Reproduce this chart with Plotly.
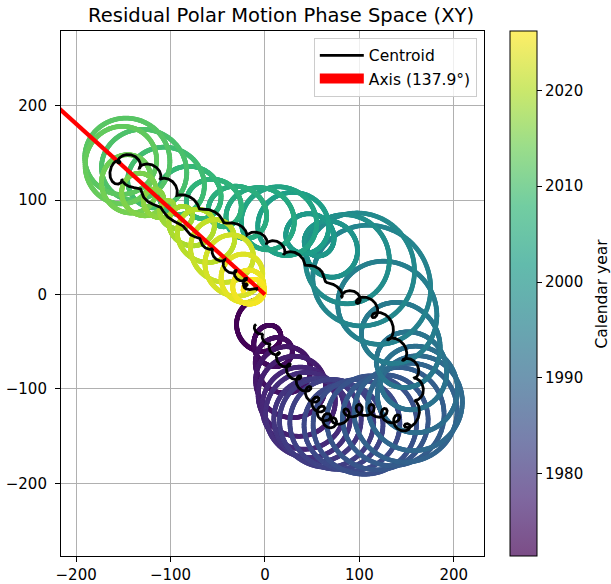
import numpy as np
import plotly.graph_objects as go
from plotly.colors import sequential

# ---------------------------------------------------------------------------
# Residual polar motion, keyed by calendar year (x, y in axis units):
#   loop centres and centroid track at the knot years,
#   loop radius once per wobble cycle.
# ---------------------------------------------------------------------------
knot_year = [1971.4, 1973.0, 1975.0, 1977.0, 1979.0, 1981.0, 1983.0, 1985.0,
             1987.0, 1989.0, 1990.5, 1992.0, 1993.5, 1995.0, 1996.5, 1998.0,
             1999.5, 2001.0, 2002.5, 2004.0, 2005.5, 2007.0, 2008.5, 2010.0,
             2011.5, 2012.5, 2013.5, 2014.5, 2016.0, 2017.5, 2019.0, 2020.5,
             2022.0, 2023.5, 2025.0, 2026.2]

loop_center_x = [-8, 5, 22, 35, 45, 60, 80, 105, 130, 155, 165, 160, 150,
                 135, 110, 92, 72, 50, 28, 5, -25, -55, -85, -118, -145,
                 -155, -155, -145, -125, -105, -85, -65, -42, -25, -18, -10]
loop_center_y = [-30, -55, -88, -115, -130, -135, -140, -140, -133, -125,
                 -110, -88, -60, -15, 20, 38, 52, 66, 76, 80, 88, 100, 112,
                 130, 145, 148, 128, 112, 100, 90, 75, 62, 38, 18, 5, 3]

centroid_x = [-10, 0, 14, 33, 50, 60, 70, 93, 115, 138, 152, 165, 160, 142,
              122, 100, 78, 55, 25, 2, -25, -58, -90, -112, -140, -160, -160,
              -145, -118, -88, -66, -50, -35, -20, -22, -5]
centroid_y = [-34, -48, -66, -88, -108, -125, -138, -123, -122, -132, -145,
              -108, -80, -56, -22, -3, 2, 27, 44, 58, 69, 87, 106, 128, 143,
              145, 118, 120, 96, 72, 55, 40, 24, 14, 8, 4]

cycle_year = [1971.4, 1972.6, 1973.8, 1975.0, 1976.1, 1977.3, 1978.5, 1979.7,
              1980.9, 1982.1, 1983.3, 1984.4, 1985.6, 1986.8, 1988.0, 1989.2,
              1990.4, 1991.5, 1992.7, 1993.9, 1995.1, 1996.3, 1997.5, 1998.7,
              1999.8, 2001.0, 2002.2, 2003.4, 2004.6, 2005.8, 2007.0, 2008.1,
              2009.3, 2010.5, 2011.7, 2012.9, 2014.1, 2015.3, 2016.4, 2017.6,
              2018.8, 2020.0, 2021.2, 2022.4, 2023.6, 2024.7, 2025.9]
cycle_radius = [28, 14, 22, 32, 38, 40, 44, 42, 46, 48, 44, 50, 52, 48, 52,
                50, 46, 40, 34, 38, 48, 60, 55, 40, 22, 18, 35, 36, 30, 24,
                22, 26, 34, 40, 42, 38, 28, 22, 14, 10, 16, 24, 28, 30, 24,
                18, 12]

axis_angle_deg = 137.9
year_min, year_max = 1971.4, 2026.2
chandler_period = 1.185          # years
curl_fraction = 0.12             # share of the wobble left in the centroid

tick_vals = [-200, -100, 0, 100, 200]
year_ticks = [1980, 1990, 2000, 2010, 2020]

# ---------------------------------------------------------------------------
t = np.linspace(year_min, year_max, 16000)
dt = t[1] - t[0]


def track(years, values, width):
    """Sample a knot series on the dense time grid and round off corners."""
    v = np.interp(t, years, values)
    n = max(1, int(round(width / dt)))
    pad = n // 2
    vp = np.pad(v, (pad, n - 1 - pad), mode="edge")
    return np.convolve(vp, np.ones(n) / n, mode="valid")


cx = track(knot_year, loop_center_x, 1.2)
cy = track(knot_year, loop_center_y, 1.2)
rad = track(cycle_year, cycle_radius, 0.6)
gx = track(knot_year, centroid_x, 0.8)
gy = track(knot_year, centroid_y, 0.8)

phase = 2 * np.pi * (t - year_min) / chandler_period + np.pi / 2
traj_x = np.round(cx + rad * np.cos(phase), 2)
traj_y = np.round(cy + rad * np.sin(phase), 2)
cen_x = np.round(gx + curl_fraction * rad * np.cos(phase), 2)
cen_y = np.round(gy + curl_fraction * rad * np.sin(phase), 2)

theta = np.deg2rad(axis_angle_deg)
axis_len = 400
axis_x = [0, axis_len * np.cos(theta)]
axis_y = [0, axis_len * np.sin(theta)]


def fade(hexcol, a=0.7):
    """Viridis stop blended over white, as drawn in the colour bar."""
    h = hexcol.lstrip("#")
    r, g, b = (int(h[i:i + 2], 16) for i in (0, 2, 4))
    f = lambda c: int(round(255 - a * (255 - c)))
    return f"rgb({f(r)},{f(g)},{f(b)})"


vir = sequential.Viridis
faded_scale = [[i / (len(vir) - 1), fade(c)] for i, c in enumerate(vir)]

font = "DejaVu Sans"
fig = go.Figure()

fig.add_trace(go.Scatter(
    x=traj_x, y=traj_y, mode="markers",
    marker=dict(size=4.8, color=np.round(t, 3), colorscale="Viridis",
                cmin=year_min, cmax=year_max, showscale=False,
                line=dict(width=0)),
    hoverinfo="skip", showlegend=False))

fig.add_trace(go.Scatter(
    x=axis_x, y=axis_y, mode="lines",
    line=dict(color="red", width=4.2), showlegend=False, hoverinfo="skip"))

fig.add_trace(go.Scatter(
    x=cen_x, y=cen_y, mode="lines", name="Centroid",
    line=dict(color="black", width=2.8), legendrank=1, hoverinfo="skip"))

fig.add_trace(go.Scatter(
    x=[None], y=[None], mode="lines", name="Axis (137.9°)",
    line=dict(color="red", width=10), legendrank=2))

fig.add_trace(go.Scatter(
    x=[None], y=[None], mode="markers", showlegend=False,
    marker=dict(color=[year_min, year_max], cmin=year_min, cmax=year_max,
                colorscale=faded_scale, showscale=True,
                colorbar=dict(
                    thickness=27, thicknessmode="pixels",
                    len=1, lenmode="fraction",
                    x=1.0615, xanchor="left", xpad=0,
                    y=0.5, yanchor="middle", ypad=0,
                    outlinewidth=1, outlinecolor="black",
                    ticks="outside", ticklen=5, tickcolor="black",
                    tickvals=year_ticks,
                    tickfont=dict(family=font, size=15, color="black")))))

axis_common = dict(
    showgrid=True, gridcolor="#b0b0b0", gridwidth=1, zeroline=False,
    showline=True, mirror=True, linecolor="black", linewidth=1.1,
    ticks="outside", ticklen=5, tickwidth=1.1, tickcolor="black",
    automargin=False,
    tickvals=tick_vals, tickfont=dict(family=font, size=15, color="black"))

fig.update_layout(
    width=611, height=584,
    margin=dict(l=61, r=127, t=31, b=28, autoexpand=False),
    paper_bgcolor="white", plot_bgcolor="white",
    font=dict(family=font, size=15, color="black"),
    title=dict(text="Residual Polar Motion Phase Space (XY)",
               x=0.46, xanchor="center", y=0.974, yanchor="middle",
               font=dict(family=font, size=19.5, color="black")),
    xaxis=dict(range=[-216, 232], **axis_common),
    yaxis=dict(range=[-277, 279], ticklabelstandoff=5, **axis_common),
    legend=dict(x=0.983, y=0.987, xanchor="right", yanchor="top",
                itemwidth=44,
                bgcolor="rgba(255,255,255,0.8)", bordercolor="#cccccc",
                borderwidth=1, font=dict(family=font, size=15.5)),
    annotations=[dict(text="Calendar year", textangle=-90,
                      xref="paper", yref="paper", x=1.2766, y=0.5,
                      xanchor="center", yanchor="middle", showarrow=False,
                      font=dict(family=font, size=15.5, color="black"))],
)

fig.write_html("out.html")
